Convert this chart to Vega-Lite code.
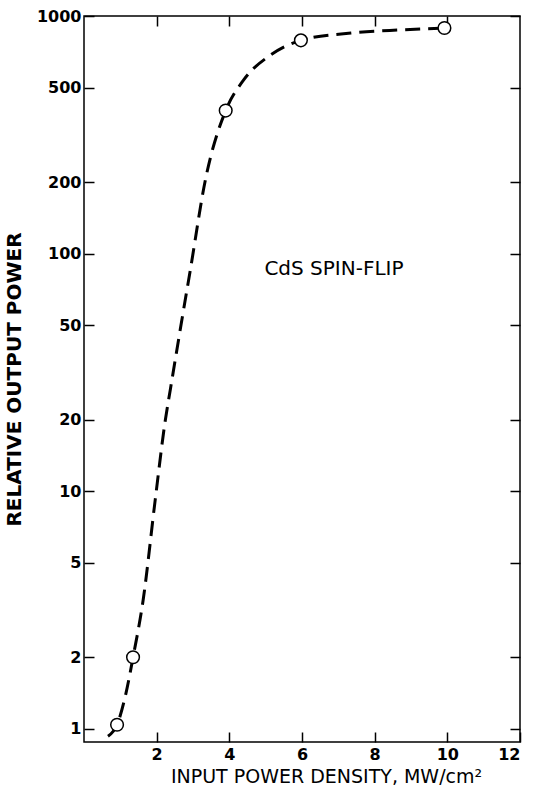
{
  "$schema": "https://vega.github.io/schema/vega-lite/v6.json",
  "autosize": "none",
  "width": 436,
  "height": 726,
  "padding": {"left": 84, "top": 16, "right": 13, "bottom": 50},
  "background": "white",
  "config": {
    "view": {"stroke": "black", "strokeWidth": 1.5},
    "axis": {"grid": false, "domain": false, "tickColor": "black", "tickWidth": 1.5, "labelColor": "black", "titleColor": "black", "labelFont": "DejaVu Sans", "titleFont": "DejaVu Sans"}
  },
  "datasets": {
    "curve": [
      {"x": 0.66, "y": 0.93}, {"x": 0.91, "y": 1.04}, {"x": 1.15, "y": 1.4}, {"x": 1.35, "y": 2.0},
      {"x": 1.63, "y": 3.5}, {"x": 1.96, "y": 9.2}, {"x": 2.24, "y": 20}, {"x": 2.38, "y": 27},
      {"x": 2.65, "y": 48}, {"x": 2.93, "y": 86}, {"x": 3.34, "y": 204}, {"x": 3.9, "y": 400},
      {"x": 4.39, "y": 537}, {"x": 5.14, "y": 686}, {"x": 5.97, "y": 790}, {"x": 7.35, "y": 848},
      {"x": 8.7, "y": 874}, {"x": 9.92, "y": 890}
    ],
    "points": [
      {"x": 0.91, "y": 1.04}, {"x": 1.35, "y": 2.0}, {"x": 3.9, "y": 400}, {"x": 5.97, "y": 790}, {"x": 9.92, "y": 890}
    ],
    "label": [{"x": 6.88, "y": 86, "text": "CdS SPIN-FLIP"}]
  },
  "resolve": {"axis": {"x": "independent", "y": "independent"}},
  "layer": [
    {
      "data": {"name": "curve"},
      "mark": {"type": "line", "interpolate": "monotone", "color": "black", "strokeWidth": 3, "strokeDash": [15, 8]},
      "encoding": {
        "x": {"field": "x", "type": "quantitative", "scale": {"domain": [0, 12], "nice": false, "zero": false},
          "axis": {"orient": "bottom", "values": [2, 4, 6, 8, 10, 12], "tickSize": -10, "labelPadding": 14, "labelFontSize": 16, "labelFontWeight": "bold", "title": "INPUT POWER DENSITY, MW/cm²", "titleFontSize": 19, "titleFontWeight": "normal", "titlePadding": 5, "titleX": 242, "titleAnchor": "middle"}},
        "y": {"field": "y", "type": "quantitative", "scale": {"type": "log", "domain": [0.88, 1000], "nice": false},
          "axis": {"orient": "left", "values": [1, 2, 5, 10, 20, 50, 100, 200, 500, 1000], "format": "d", "tickSize": -10, "labelPadding": 13, "labelFontSize": 16, "labelFontWeight": "bold", "title": "RELATIVE OUTPUT POWER", "titleFontSize": 20, "titleFontWeight": "bold", "titlePadding": 12}}
      }
    },
    {
      "data": {"name": "points"},
      "mark": {"type": "point", "shape": "circle", "filled": true, "fill": "white", "stroke": "black", "strokeWidth": 1.5, "size": 160, "opacity": 1},
      "encoding": {
        "x": {"field": "x", "type": "quantitative", "axis": {"orient": "top", "values": [2, 4, 6, 8, 10], "tickSize": -10, "labels": false, "title": null}},
        "y": {"field": "y", "type": "quantitative", "axis": {"orient": "right", "values": [1, 2, 5, 10, 20, 50, 100, 200, 500, 1000], "tickSize": -10, "labels": false, "title": null}}
      }
    },
    {
      "data": {"name": "label"},
      "mark": {"type": "text", "font": "DejaVu Sans", "fontSize": 20, "fontWeight": "normal", "color": "black", "align": "center", "baseline": "middle"},
      "encoding": {
        "x": {"field": "x", "type": "quantitative", "axis": null},
        "y": {"field": "y", "type": "quantitative", "axis": null},
        "text": {"field": "text"}
      }
    }
  ]
}
